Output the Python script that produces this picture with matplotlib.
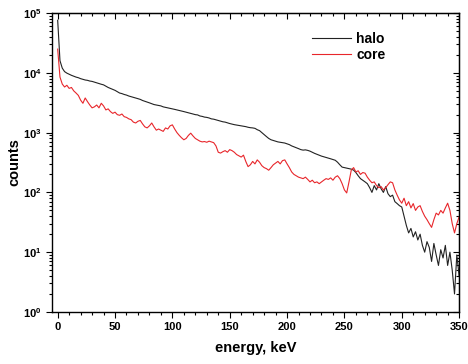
import numpy as np
import matplotlib.pyplot as plt
from matplotlib.ticker import MultipleLocator, LogLocator, NullFormatter

plt.rcParams['font.family'] = 'Liberation Sans'
plt.rcParams['font.weight'] = 'bold'
plt.rcParams['mathtext.fontset'] = 'custom'
plt.rcParams['mathtext.rm'] = 'Liberation Sans:bold'
plt.rcParams['mathtext.bf'] = 'Liberation Sans:bold'

# energy bins, keV (2 keV step)
energy = np.arange(0, 351, 2)

halo = [76000, 16000, 12000, 10500, 9900, 9500, 9100, 8800, 8500, 8300,
        8000, 7800, 7600, 7500, 7300, 7200, 7000, 6800, 6600, 6450,
        6300, 6000, 5700, 5500, 5300, 5100, 4850, 4600, 4500, 4350,
        4250, 4100, 4000, 3900, 3800, 3700, 3600, 3450, 3350, 3250,
        3150, 3050, 2950, 2900, 2850, 2800, 2700, 2650, 2600, 2550,
        2500, 2450, 2400, 2350, 2300, 2250, 2200, 2150, 2100, 2050,
        2000, 1980, 1900, 1870, 1820, 1800, 1760, 1700, 1680, 1640,
        1600, 1560, 1520, 1500, 1460, 1420, 1390, 1360, 1340, 1320,
        1300, 1280, 1260, 1230, 1210, 1200, 1180, 1120, 1080, 1000,
        930, 860, 800, 760, 740, 720, 700, 690, 680, 670,
        650, 630, 600, 580, 560, 540, 520, 510, 515, 505,
        490, 470, 450, 435, 420, 405, 395, 385, 375, 365,
        355, 345, 320, 290, 265, 260, 255, 250, 245, 236,
        215, 190, 170, 160, 150, 140, 120, 100, 130, 110,
        140, 115, 100, 125, 95, 85, 90, 70, 65, 60,
        57, 40, 28, 21, 25, 18, 22, 16, 20, 13,
        10, 15, 12, 7, 14, 9, 6, 11, 8, 13,
        6, 10, 5, 2, 9, 4]

core = [25000, 8500, 6500, 5800, 6200, 5500, 5700, 5000, 4600, 4200,
        3500, 3100, 3800, 3300, 2900, 2600, 2700, 2900, 2600, 3100,
        2800, 2400, 2500, 2250, 2100, 2200, 2000, 1950, 2050, 1850,
        1800, 1700, 1650, 1500, 1450, 1550, 1600, 1400, 1250, 1200,
        1300, 1450, 1250, 1100, 1150, 1100, 1050, 1200, 1150, 1300,
        1350, 1150, 1000, 900, 820, 760, 800, 900, 980, 880,
        800, 760, 720, 700, 710, 690, 720, 700, 680, 600,
        470, 455, 480, 500, 470, 520, 500, 470, 430, 410,
        390, 420, 330, 270, 290, 330, 300, 350, 320, 280,
        260, 250, 235, 260, 290, 310, 330, 300, 340, 350,
        300, 260, 220, 200, 190, 180, 175, 170, 180, 165,
        150, 160, 145, 150, 140, 150, 160, 170, 165, 175,
        160, 180, 190, 170, 140, 110, 98, 150, 237, 260,
        220, 230, 200, 215, 210, 180, 160, 145, 150, 130,
        120, 125, 110, 120, 135, 150, 145, 110, 90, 75,
        66, 80, 60, 70, 55, 65, 50, 57, 60, 48,
        40, 35, 30, 26, 35, 45, 42, 50, 45, 55,
        66, 50, 30, 21, 30, 39]

fig = plt.figure(figsize=(4.68, 3.64), dpi=100)
ax = fig.add_axes([0.111, 0.143, 0.870, 0.821])

ax.plot(energy, halo, color='#222222', lw=0.8, label='halo')
ax.plot(energy, core, color='#e8262b', lw=0.8, label='core')

ax.set_yscale('log')
ax.set_xlim(-5, 350)
ax.set_ylim(1, 1e5)

ax.xaxis.set_major_locator(MultipleLocator(50))
ax.xaxis.set_minor_locator(MultipleLocator(10))
ax.yaxis.set_minor_locator(LogLocator(base=10, subs=np.arange(2, 10), numticks=10))
ax.yaxis.set_minor_formatter(NullFormatter())
ax.set_yticks([1, 10, 100, 1000, 1e4, 1e5])
ax.set_yticklabels([r'$10^{%d}$' % k for k in range(6)])

ax.tick_params(which='both', direction='out', labelsize=8, width=0.8)
ax.tick_params(which='major', length=4)
ax.tick_params(which='minor', length=2.5)

# inward ticks on top and right
top = ax.secondary_xaxis('top')
top.xaxis.set_major_locator(MultipleLocator(50))
top.xaxis.set_minor_locator(MultipleLocator(10))
top.tick_params(which='both', direction='in', labeltop=False, width=0.8)
top.tick_params(which='major', length=4)
top.tick_params(which='minor', length=2.5)
right = ax.secondary_yaxis('right')
right.set_yticks([1, 10, 100, 1000, 1e4, 1e5])
right.yaxis.set_minor_locator(LogLocator(base=10, subs=np.arange(2, 10), numticks=10))
right.yaxis.set_minor_formatter(NullFormatter())
right.tick_params(which='both', direction='in', labelright=False, width=0.8)
right.tick_params(which='major', length=4)
right.tick_params(which='minor', length=2.5)

for s in ax.spines.values():
    s.set_linewidth(1.0)

ax.set_xlabel('energy, keV', fontsize=10.5, fontweight='bold', labelpad=6)
ax.set_ylabel('counts', fontsize=10.5, fontweight='bold', labelpad=1)

ax.legend(loc='upper right', bbox_to_anchor=(0.85, 0.98), frameon=False,
          fontsize=10, handlelength=2.8, handletextpad=0.4, labelspacing=0.2)

fig.savefig('out.png', dpi=100)
